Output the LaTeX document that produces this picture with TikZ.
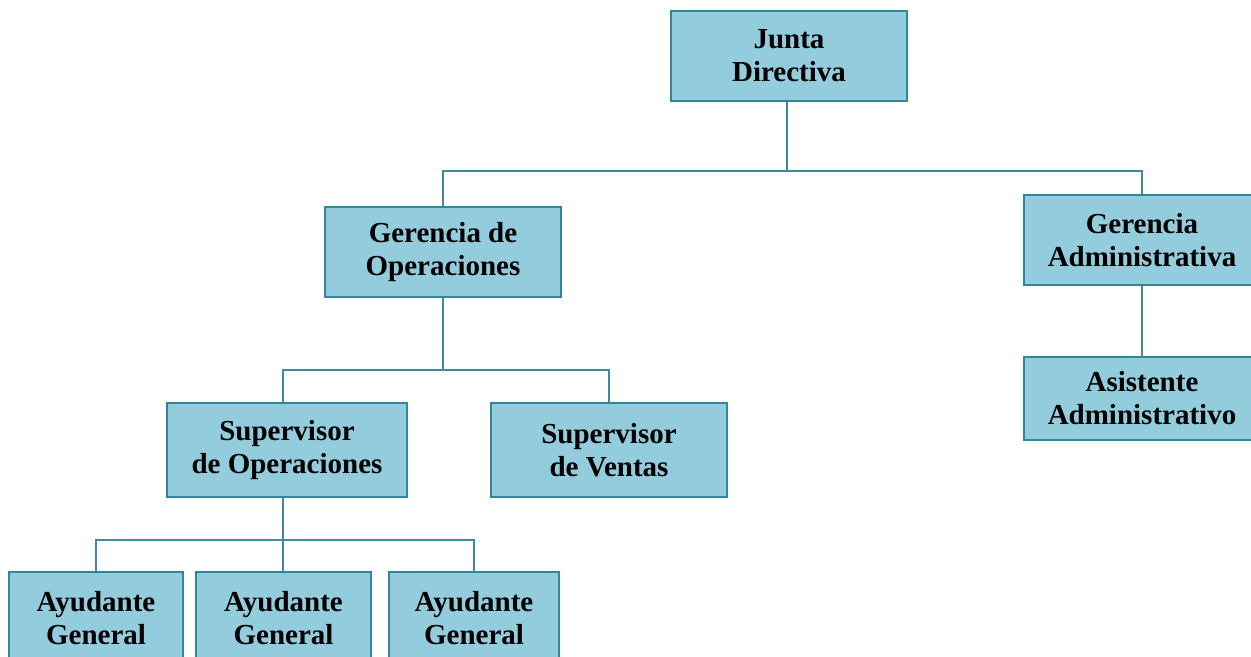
\documentclass[tikz,border=0pt]{standalone}
\usepackage{fontspec}
\setmainfont{Liberation Serif}
\usepackage{tikz}
\definecolor{cajafondo}{RGB}{147,205,221}
\definecolor{cajaborde}{RGB}{49,133,156}
\definecolor{linea}{RGB}{62,138,165}
\begin{document}
\begin{tikzpicture}[x=0.5pt, y=-0.5pt,
  unidad/.style={draw=cajaborde, line width=1.4pt, fill=cajafondo, align=center,
    minimum width=118pt, minimum height=45pt, inner sep=0pt,
    font=\fontsize{14.5}{16.5}\selectfont\bfseries},
  enlace/.style={draw=linea, line width=1pt}]
  \useasboundingbox (0,0) rectangle (1251,657);
  \node [unidad] (JD) at (789, 56) {Junta\\Directiva};
  \node [unidad] (GO) at (443, 252) {Gerencia de\\Operaciones};
  \node [unidad] (GA) at (1142, 240) {Gerencia\\Administrativa};
  \node [unidad, minimum height=41.5pt] (AA) at (1142, 398.5) {Asistente\\Administrativo};
  \node [unidad, minimum width=120pt, minimum height=47pt] (SO) at (287, 450) {Supervisor\\de Operaciones};
  \node [unidad, minimum height=47pt] (SV) at (609, 450) {Supervisor\\de Ventas};
  \node [unidad, minimum width=87pt, minimum height=46pt] (AG1) at (96, 618) {Ayudante\\General};
  \node [unidad, minimum width=87.5pt, minimum height=46pt] (AG2) at (283.5, 618) {Ayudante\\General};
  \node [unidad, minimum width=85pt, minimum height=46pt] (AG3) at (474, 618) {Ayudante\\General};
  \coordinate (B1) at (787, 171);
  \coordinate (B2) at (443, 370);
  \coordinate (B3) at (283, 540);
  % primer nivel
  \draw [enlace] (JD.south -| B1) -- (B1);
  \draw [enlace] (B1) -| (GO.north);
  \draw [enlace] (B1) -| (GA.north);
  \draw [enlace] (GA) -- (AA);
  % operaciones
  \draw [enlace] (GO) -- (B2);
  \draw [enlace] (B2) -| (SO.north -| B3);
  \draw [enlace] (B2) -| (SV.north);
  % ayudantes
  \draw [enlace] (SO.south -| B3) -- (B3);
  \draw [enlace, line width=0.8pt] (B3) -| (AG1.north);
  \draw [enlace] (B3) -- (AG2.north -| B3);
  \draw [enlace, line width=0.8pt] (B3) -| (AG3.north);
\end{tikzpicture}
\end{document}
